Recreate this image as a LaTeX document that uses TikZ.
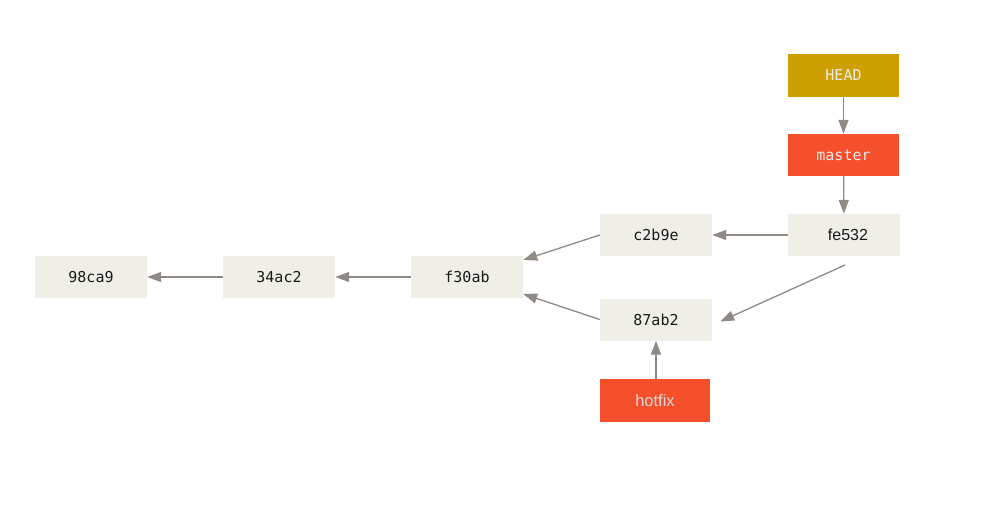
\documentclass[tikz,border=0pt]{standalone}
\usepackage{fontspec}
\newfontfamily\monof{DejaVu Sans Mono}
\newfontfamily\sansf{Liberation Sans}
\usetikzlibrary{arrows.meta}
\definecolor{commitfill}{HTML}{EFEEE7}
\definecolor{headfill}{HTML}{CDA000}
\definecolor{branchfill}{HTML}{F54F2B}
\definecolor{arrowcol}{HTML}{8F8A84}
\definecolor{txt}{HTML}{1A1A1A}
\tikzset{
  commit/.style={fill=commitfill, minimum width=112pt, minimum height=42pt, inner sep=0pt, font=\monof\fontsize{15}{18}\selectfont, text=txt},
  headbox/.style={fill=headfill, minimum width=111pt, minimum height=43pt, inner sep=0pt, font=\monof\fontsize{15}{18}\selectfont, text=white!92!black},
  branchbox/.style={fill=branchfill, minimum width=111pt, minimum height=42pt, inner sep=0pt, font=\monof\fontsize{15}{18}\selectfont, text=white!92!black},
  conn/.style={draw=arrowcol, line width=1.3pt, -{Triangle[length=14pt,width=10pt]}, arrowcol}
}
\begin{document}
\begin{tikzpicture}[x=1pt,y=-1pt]
\useasboundingbox (0,0) rectangle (1000,512);
\node[commit] (c98) at (91,277) {98ca9};
\node[commit] (c34) at (279,277) {34ac2};
\node[commit] (cf3) at (467,277) {f30ab};
\node[commit] (cc2) at (656,235) {c2b9e};
\node[commit] (c87) at (656,319.5) {87ab2};
\node[commit, font=\sansf\fontsize{16}{19}\selectfont] (cfe) at (844,235) {\hspace{8pt}fe532};
\node[headbox] (head) at (843.5,75.5) {HEAD};
\node[branchbox] (master) at (843.5,155) {master};
\node[branchbox, minimum width=110pt, minimum height=43pt, font=\sansf\fontsize{16.5}{19}\selectfont, text=white!85!black] (hotfix) at (655,400.5) {hotfix};
\coordinate (feb) at (845,265);
\draw[conn] (head) -- (master);
\draw[conn] (master) -- (cfe);
\draw[conn] (cfe) -- (cc2);
\draw[conn] (feb) -- ([xshift=8pt,yshift=-2pt]c87.east);
\draw[conn] (c87|-hotfix.north) -- (c87);
\draw[conn] (cc2.west) -- ([yshift=17pt]cf3.east);
\draw[conn] (c87.west) -- ([yshift=-17pt]cf3.east);
\draw[conn] (cf3) -- (c34);
\draw[conn] (c34) -- (c98);
\end{tikzpicture}
\end{document}
